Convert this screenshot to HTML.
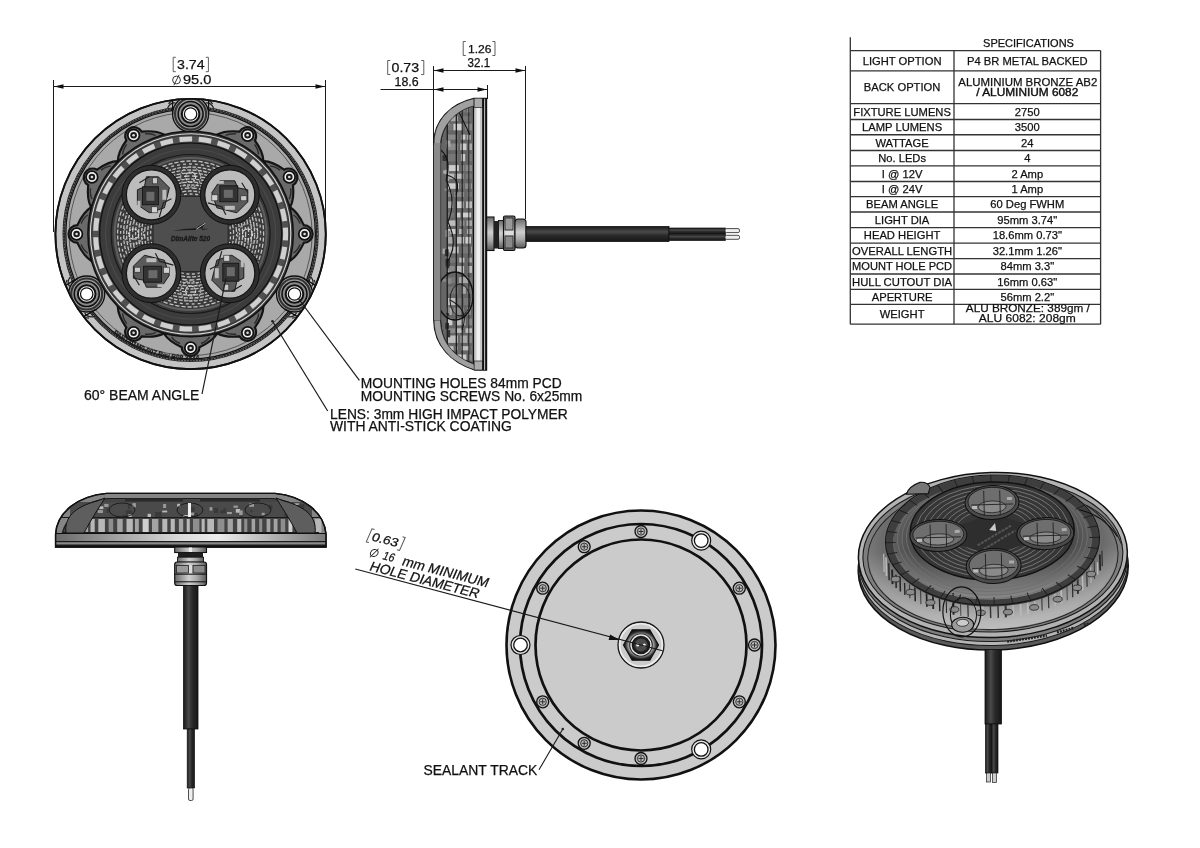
<!DOCTYPE html>
<html><head><meta charset="utf-8"><style>
html,body{margin:0;padding:0;background:#fff;width:1200px;height:848px;overflow:hidden}
svg{display:block;filter:grayscale(1)}
text{font-family:"Liberation Sans", sans-serif;fill:#111;stroke:#111;stroke-width:0.25px}
</style></head><body>
<svg width="1200" height="848" viewBox="0 0 1200 848">
<defs>
<linearGradient id="cableG" x1="0" y1="0" x2="0" y2="1">
<stop offset="0" stop-color="#1a1a1a"/><stop offset="0.35" stop-color="#4a4a4a"/><stop offset="0.6" stop-color="#2a2a2a"/><stop offset="1" stop-color="#161616"/></linearGradient>
<linearGradient id="cableV" x1="0" y1="0" x2="1" y2="0">
<stop offset="0" stop-color="#1a1a1a"/><stop offset="0.35" stop-color="#4a4a4a"/><stop offset="0.6" stop-color="#2a2a2a"/><stop offset="1" stop-color="#161616"/></linearGradient>
<linearGradient id="nutV" x1="0" y1="0" x2="1" y2="0">
<stop offset="0" stop-color="#333"/><stop offset="0.4" stop-color="#aaa"/><stop offset="0.7" stop-color="#666"/><stop offset="1" stop-color="#2a2a2a"/></linearGradient>
<linearGradient id="nutH" x1="0" y1="0" x2="0" y2="1">
<stop offset="0" stop-color="#555"/><stop offset="0.4" stop-color="#ccc"/><stop offset="0.7" stop-color="#888"/><stop offset="1" stop-color="#444"/></linearGradient>
</defs>

<g stroke="#1a1a1a" stroke-width="1" fill="none">
<line x1="53.5" y1="80" x2="53.5" y2="232"/><line x1="325.5" y1="80" x2="325.5" y2="230"/>
<line x1="53.5" y1="86.5" x2="325.5" y2="86.5"/>
</g>
<path d="M54.0,86.5 L63.5,84.3 L63.5,88.7 Z" fill="#111"/>
<path d="M325.0,86.5 L315.5,88.7 L315.5,84.3 Z" fill="#111"/>
<path d="M175.8,57.3 H173.2 V71.7 H175.8 M205.8,57.3 H208.4 V71.7 H205.8" fill="none" stroke="#555" stroke-width="0.95"/>
<text x="177.0" y="68.7" font-size="13.41" textLength="27.6" lengthAdjust="spacingAndGlyphs">3.74</text>
<circle cx="176.5" cy="80.0" r="3.9" fill="none" stroke="#222" stroke-width="0.9"/><line x1="173.9" y1="85.2" x2="179.1" y2="74.8" stroke="#222" stroke-width="0.9"/>
<text x="183.0" y="84.1" font-size="12.71" textLength="28.4" lengthAdjust="spacingAndGlyphs">95.0</text>
<g stroke="#1a1a1a" stroke-width="1" fill="none">
<line x1="433.5" y1="66" x2="433.5" y2="145"/>
<line x1="525.5" y1="66" x2="525.5" y2="219"/>
<line x1="487.5" y1="85" x2="487.5" y2="99"/>
<line x1="433.5" y1="70.5" x2="525.5" y2="70.5"/>
<line x1="380.5" y1="89.5" x2="487.5" y2="89.5"/>
</g>
<path d="M434.0,70.5 L443.5,68.3 L443.5,72.7 Z" fill="#111"/>
<path d="M525.0,70.5 L515.5,72.7 L515.5,68.3 Z" fill="#111"/>
<path d="M434.0,89.5 L443.5,87.3 L443.5,91.7 Z" fill="#111"/>
<path d="M487.0,89.5 L477.5,91.7 L477.5,87.3 Z" fill="#111"/>
<path d="M465.8,41.5 H463.2 V55.5 H465.8 M492.4,41.5 H495.0 V55.5 H492.4" fill="none" stroke="#555" stroke-width="0.95"/>
<text x="468.0" y="52.5" font-size="11.45" textLength="23.5" lengthAdjust="spacingAndGlyphs">1.26</text>
<text x="467.5" y="67.0" font-size="11.87" textLength="22.6" lengthAdjust="spacingAndGlyphs">32.1</text>
<path d="M390.3,60.5 H387.7 V74.5 H390.3 M421.2,60.5 H423.8 V74.5 H421.2" fill="none" stroke="#555" stroke-width="0.95"/>
<text x="391.5" y="71.5" font-size="11.87" textLength="27.6" lengthAdjust="spacingAndGlyphs">0.73</text>
<text x="394.5" y="86.0" font-size="11.87" textLength="24.1" lengthAdjust="spacingAndGlyphs">18.6</text>
<text x="84" y="399.5" font-size="14">60° BEAM ANGLE</text>
<text x="360.8" y="387.8" font-size="13.8">MOUNTING HOLES 84mm PCD</text>
<text x="360.8" y="401" font-size="13.8">MOUNTING SCREWS No. 6x25mm</text>
<text x="330" y="419" font-size="13.8">LENS: 3mm HIGH IMPACT POLYMER</text>
<text x="330" y="431.2" font-size="13.9">WITH ANTI-STICK COATING</text>
<text x="423.5" y="774.6" font-size="13.9">SEALANT TRACK</text>
<g stroke="#333" stroke-width="1.3" fill="none">
<line x1="850.3" y1="37.3" x2="850.3" y2="324.2"/>
<line x1="954" y1="50.6" x2="954" y2="324.2"/>
<line x1="1100.6" y1="50.6" x2="1100.6" y2="324.2"/>
<line x1="850.3" y1="50.6" x2="1100.6" y2="50.6"/>
<line x1="850.3" y1="70.9" x2="1100.6" y2="70.9"/>
<line x1="850.3" y1="103.7" x2="1100.6" y2="103.7"/>
<line x1="850.3" y1="119.5" x2="1100.6" y2="119.5"/>
<line x1="850.3" y1="134.75" x2="1100.6" y2="134.75"/>
<line x1="850.3" y1="150.5" x2="1100.6" y2="150.5"/>
<line x1="850.3" y1="165.8" x2="1100.6" y2="165.8"/>
<line x1="850.3" y1="181.5" x2="1100.6" y2="181.5"/>
<line x1="850.3" y1="196.6" x2="1100.6" y2="196.6"/>
<line x1="850.3" y1="212" x2="1100.6" y2="212"/>
<line x1="850.3" y1="227.7" x2="1100.6" y2="227.7"/>
<line x1="850.3" y1="243.2" x2="1100.6" y2="243.2"/>
<line x1="850.3" y1="258.7" x2="1100.6" y2="258.7"/>
<line x1="850.3" y1="274" x2="1100.6" y2="274"/>
<line x1="850.3" y1="289.3" x2="1100.6" y2="289.3"/>
<line x1="850.3" y1="304.4" x2="1100.6" y2="304.4"/>
<line x1="850.3" y1="324.2" x2="1100.6" y2="324.2"/>
</g>
<text x="1028.5" y="46.9" font-size="11" text-anchor="middle">SPECIFICATIONS</text>
<text x="902.1" y="64.8" font-size="11.2" text-anchor="middle">LIGHT OPTION</text>
<text x="1027.3" y="64.8" font-size="11.2" text-anchor="middle">P4 BR METAL BACKED</text>
<text x="902.1" y="91.3" font-size="11.2" text-anchor="middle">BACK OPTION</text>
<text x="1027.8" y="86.2" font-size="11.2" text-anchor="middle" textLength="139" lengthAdjust="spacingAndGlyphs">ALUMINIUM BRONZE AB2</text>
<text x="1027.3" y="96.3" font-size="11.2" text-anchor="middle" style="stroke-width:0.4px" textLength="102" lengthAdjust="spacingAndGlyphs">/ ALUMINIUM 6082</text>
<text x="902.1" y="115.6" font-size="11.2" text-anchor="middle">FIXTURE LUMENS</text>
<text x="1027.3" y="115.6" font-size="11.2" text-anchor="middle">2750</text>
<text x="902.1" y="131.1" font-size="11.2" text-anchor="middle">LAMP LUMENS</text>
<text x="1027.3" y="131.1" font-size="11.2" text-anchor="middle">3500</text>
<text x="902.1" y="146.6" font-size="11.2" text-anchor="middle">WATTAGE</text>
<text x="1027.3" y="146.6" font-size="11.2" text-anchor="middle">24</text>
<text x="902.1" y="162.2" font-size="11.2" text-anchor="middle">No. LEDs</text>
<text x="1027.3" y="162.2" font-size="11.2" text-anchor="middle">4</text>
<text x="902.1" y="177.7" font-size="11.2" text-anchor="middle">I @ 12V</text>
<text x="1027.3" y="177.7" font-size="11.2" text-anchor="middle">2 Amp</text>
<text x="902.1" y="193.1" font-size="11.2" text-anchor="middle">I @ 24V</text>
<text x="1027.3" y="193.1" font-size="11.2" text-anchor="middle">1 Amp</text>
<text x="902.1" y="208.3" font-size="11.2" text-anchor="middle">BEAM ANGLE</text>
<text x="1027.3" y="208.3" font-size="11.2" text-anchor="middle">60 Deg FWHM</text>
<text x="902.1" y="223.8" font-size="11.2" text-anchor="middle">LIGHT DIA</text>
<text x="1027.3" y="223.8" font-size="11.2" text-anchor="middle">95mm 3.74"</text>
<text x="902.1" y="239.4" font-size="11.2" text-anchor="middle">HEAD HEIGHT</text>
<text x="1027.3" y="239.4" font-size="11.2" text-anchor="middle">18.6mm 0.73"</text>
<text x="902.1" y="254.9" font-size="11.2" text-anchor="middle" textLength="100" lengthAdjust="spacingAndGlyphs">OVERALL LENGTH</text>
<text x="1027.3" y="254.9" font-size="11.2" text-anchor="middle">32.1mm 1.26"</text>
<text x="902.1" y="270.4" font-size="11.2" text-anchor="middle" textLength="100" lengthAdjust="spacingAndGlyphs">MOUNT HOLE PCD</text>
<text x="1027.3" y="270.4" font-size="11.2" text-anchor="middle">84mm 3.3"</text>
<text x="902.1" y="285.6" font-size="11.2" text-anchor="middle" textLength="100" lengthAdjust="spacingAndGlyphs">HULL CUTOUT DIA</text>
<text x="1027.3" y="285.6" font-size="11.2" text-anchor="middle">16mm 0.63"</text>
<text x="902.1" y="300.9" font-size="11.2" text-anchor="middle">APERTURE</text>
<text x="1027.3" y="300.9" font-size="11.2" text-anchor="middle">56mm 2.2"</text>
<text x="902.1" y="318.3" font-size="11.2" text-anchor="middle">WEIGHT</text>
<text x="1027.8" y="312.3" font-size="11.2" text-anchor="middle" textLength="124" lengthAdjust="spacingAndGlyphs">ALU BRONZE: 389gm /</text>
<text x="1027.3" y="322" font-size="11.2" text-anchor="middle" textLength="97" lengthAdjust="spacingAndGlyphs">ALU 6082: 208gm</text>
<g id="front">
<circle cx="190.6" cy="234.0" r="135.2" fill="#c4c4c4" stroke="#111" stroke-width="1.8"/>
<circle cx="190.6" cy="234.0" r="126.8" fill="none" stroke="#222" stroke-width="2.6"/>
<circle cx="190.6" cy="234.0" r="126.8" fill="none" stroke="#999" stroke-width="0.8" stroke-dasharray="1.5 1.5"/>
<circle cx="190.6" cy="234.0" r="124.8" fill="#a9a9a9" stroke="#111" stroke-width="1.3"/>
<circle cx="190.6" cy="234.0" r="121.5" fill="none" stroke="#333" stroke-width="0.7"/>
<path d="M290.1,260.7 Q297.9,255.8 303.8,242.9 A7,7 0 0 0 303.8,225.1 Q297.9,212.2 290.1,207.3 Z" fill="#6a6a6a" stroke="#151515" stroke-width="2.2"/>
<path d="M293.4,253.0 Q297.3,250.9 300.1,244.5 M293.4,215.0 Q297.3,217.1 300.1,223.5" fill="none" stroke="#2a2a2a" stroke-width="1.4"/>
<path d="M290.1,207.3 Q294.4,199.3 293.0,185.1 A7,7 0 0 0 284.1,169.7 Q272.6,161.4 263.4,161.2 Z" fill="#6a6a6a" stroke="#151515" stroke-width="2.2"/>
<path d="M289.1,199.1 Q291.4,195.3 290.7,188.4 M270.1,166.1 Q274.5,166.0 280.2,170.1" fill="none" stroke="#2a2a2a" stroke-width="1.4"/>
<path d="M263.4,161.2 Q263.2,152.0 254.9,140.5 A7,7 0 0 0 239.5,131.6 Q225.3,130.2 217.3,134.5 Z" fill="#6a6a6a" stroke="#151515" stroke-width="2.2"/>
<path d="M258.5,154.5 Q258.6,150.1 254.5,144.4 M225.5,135.5 Q229.3,133.2 236.2,133.9" fill="none" stroke="#2a2a2a" stroke-width="1.4"/>
<path d="M163.9,134.5 Q155.9,130.2 141.7,131.6 A7,7 0 0 0 126.3,140.5 Q118.0,152.0 117.8,161.2 Z" fill="#6a6a6a" stroke="#151515" stroke-width="2.2"/>
<path d="M155.7,135.5 Q151.9,133.2 145.0,133.9 M122.7,154.5 Q122.6,150.1 126.7,144.4" fill="none" stroke="#2a2a2a" stroke-width="1.4"/>
<path d="M117.8,161.2 Q108.6,161.4 97.1,169.7 A7,7 0 0 0 88.2,185.1 Q86.8,199.3 91.1,207.3 Z" fill="#6a6a6a" stroke="#151515" stroke-width="2.2"/>
<path d="M111.1,166.1 Q106.7,166.0 101.0,170.1 M92.1,199.1 Q89.8,195.3 90.5,188.4" fill="none" stroke="#2a2a2a" stroke-width="1.4"/>
<path d="M91.1,207.3 Q83.3,212.2 77.4,225.1 A7,7 0 0 0 77.4,242.9 Q83.3,255.8 91.1,260.7 Z" fill="#6a6a6a" stroke="#151515" stroke-width="2.2"/>
<path d="M87.8,215.0 Q83.9,217.1 81.1,223.5 M87.8,253.0 Q83.9,250.9 81.1,244.5" fill="none" stroke="#2a2a2a" stroke-width="1.4"/>
<path d="M117.8,306.8 Q118.0,316.0 126.3,327.5 A7,7 0 0 0 141.7,336.4 Q155.9,337.8 163.9,333.5 Z" fill="#6a6a6a" stroke="#151515" stroke-width="2.2"/>
<path d="M122.7,313.5 Q122.6,317.9 126.7,323.6 M155.7,332.5 Q151.9,334.8 145.0,334.1" fill="none" stroke="#2a2a2a" stroke-width="1.4"/>
<path d="M163.9,333.5 Q168.8,341.3 181.7,347.2 A7,7 0 0 0 199.5,347.2 Q212.4,341.3 217.3,333.5 Z" fill="#6a6a6a" stroke="#151515" stroke-width="2.2"/>
<path d="M171.6,336.8 Q173.7,340.7 180.1,343.5 M209.6,336.8 Q207.5,340.7 201.1,343.5" fill="none" stroke="#2a2a2a" stroke-width="1.4"/>
<path d="M217.3,333.5 Q225.3,337.8 239.5,336.4 A7,7 0 0 0 254.9,327.5 Q263.2,316.0 263.4,306.8 Z" fill="#6a6a6a" stroke="#151515" stroke-width="2.2"/>
<path d="M225.5,332.5 Q229.3,334.8 236.2,334.1 M258.5,313.5 Q258.6,317.9 254.5,323.6" fill="none" stroke="#2a2a2a" stroke-width="1.4"/>
<clipPath id="frontclip"><circle cx="190.6" cy="234.0" r="134.5"/></clipPath>
<g clip-path="url(#frontclip)">
<circle cx="190.6" cy="114.0" r="18" fill="#a0a0a0" stroke="#111" stroke-width="1.3"/>
<circle cx="190.6" cy="114.0" r="15.5" fill="none" stroke="#333" stroke-width="2.2"/>
<circle cx="190.6" cy="114.0" r="12.5" fill="#8a8a8a" stroke="#111" stroke-width="1.6"/>
<g transform="rotate(0.0 190.6 114.0)"><path d="M168.6,104.0 Q171.6,99.0 176.6,100.0 M167.6,108.0 Q170.6,102.0 175.6,103.0 M212.6,104.0 Q209.6,99.0 204.6,100.0 M213.6,108.0 Q210.6,102.0 205.6,103.0" fill="none" stroke="#222" stroke-width="1.2"/><path d="M172.6,96.0 L172.6,114.0 M208.6,96.0 L208.6,114.0" stroke="#111" stroke-width="1.3"/></g>
<circle cx="86.7" cy="294.0" r="18" fill="#a0a0a0" stroke="#111" stroke-width="1.3"/>
<circle cx="86.7" cy="294.0" r="15.5" fill="none" stroke="#333" stroke-width="2.2"/>
<circle cx="86.7" cy="294.0" r="12.5" fill="#8a8a8a" stroke="#111" stroke-width="1.6"/>
<g transform="rotate(-120.0 86.7 294.0)"><path d="M64.7,284.0 Q67.7,279.0 72.7,280.0 M63.7,288.0 Q66.7,282.0 71.7,283.0 M108.7,284.0 Q105.7,279.0 100.7,280.0 M109.7,288.0 Q106.7,282.0 101.7,283.0" fill="none" stroke="#222" stroke-width="1.2"/><path d="M68.7,276.0 L68.7,294.0 M104.7,276.0 L104.7,294.0" stroke="#111" stroke-width="1.3"/></g>
<circle cx="294.5" cy="294.0" r="18" fill="#a0a0a0" stroke="#111" stroke-width="1.3"/>
<circle cx="294.5" cy="294.0" r="15.5" fill="none" stroke="#333" stroke-width="2.2"/>
<circle cx="294.5" cy="294.0" r="12.5" fill="#8a8a8a" stroke="#111" stroke-width="1.6"/>
<g transform="rotate(-240.0 294.5 294.0)"><path d="M272.5,284.0 Q275.5,279.0 280.5,280.0 M271.5,288.0 Q274.5,282.0 279.5,283.0 M316.5,284.0 Q313.5,279.0 308.5,280.0 M317.5,288.0 Q314.5,282.0 309.5,283.0" fill="none" stroke="#222" stroke-width="1.2"/><path d="M276.5,276.0 L276.5,294.0 M312.5,276.0 L312.5,294.0" stroke="#111" stroke-width="1.3"/></g>
</g>
<circle cx="190.6" cy="234.0" r="135.2" fill="none" stroke="#111" stroke-width="1.8"/>
<circle cx="190.6" cy="234.0" r="102.7" fill="#3a3a3a" stroke="#111" stroke-width="1.5"/>
<circle cx="190.6" cy="234.0" r="100.2" fill="none" stroke="#d8d8d8" stroke-width="1.1"/>
<circle cx="190.6" cy="234.0" r="95" fill="none" stroke="#505050" stroke-width="6"/>
<path d="M285.4,240.3 A95,95 0 0 0 285.4,227.7 M284.7,221.1 A95,95 0 0 0 282.2,208.8 M280.2,202.4 A95,95 0 0 0 275.2,190.8 M272.0,185.0 A95,95 0 0 0 264.8,174.7 M260.5,169.6 A95,95 0 0 0 251.3,161.0 M246.1,156.9 A95,95 0 0 0 235.4,150.2 M229.4,147.3 A95,95 0 0 0 217.6,142.9 M211.2,141.3 A95,95 0 0 0 198.7,139.3 M192.1,139.0 A95,95 0 0 0 179.5,139.6 M172.9,140.7 A95,95 0 0 0 160.7,143.8 M154.5,146.1 A95,95 0 0 0 143.2,151.7 M137.6,155.2 A95,95 0 0 0 127.6,162.9 M122.8,167.5 A95,95 0 0 0 114.6,177.0 M110.8,182.5 A95,95 0 0 0 104.7,193.5 M102.0,199.6 A95,95 0 0 0 98.3,211.6 M96.9,218.1 A95,95 0 0 0 95.7,230.7 M95.7,237.3 A95,95 0 0 0 96.9,249.9 M98.3,256.4 A95,95 0 0 0 102.0,268.4 M104.7,274.5 A95,95 0 0 0 110.8,285.5 M114.6,291.0 A95,95 0 0 0 122.8,300.5 M127.6,305.1 A95,95 0 0 0 137.6,312.8 M143.2,316.3 A95,95 0 0 0 154.5,321.9 M160.7,324.2 A95,95 0 0 0 172.9,327.3 M179.5,328.4 A95,95 0 0 0 192.1,329.0 M198.7,328.7 A95,95 0 0 0 211.2,326.7 M217.6,325.1 A95,95 0 0 0 229.4,320.7 M235.4,317.8 A95,95 0 0 0 246.1,311.1 M251.3,307.0 A95,95 0 0 0 260.5,298.4 M264.8,293.3 A95,95 0 0 0 272.0,283.0 M275.2,277.2 A95,95 0 0 0 280.2,265.6 M282.2,259.2 A95,95 0 0 0 284.7,246.9" fill="none" stroke="#cfcfcf" stroke-width="5"/>
<circle cx="190.6" cy="234.0" r="91" fill="#3c3c3c" stroke="#111" stroke-width="1.2"/>
<circle cx="190.6" cy="234.0" r="85" fill="none" stroke="#4a4a4a" stroke-width="1.2"/>
<circle cx="190.6" cy="234.0" r="79.5" fill="#3a3a3a" stroke="#1a1a1a" stroke-width="1.2"/>
<circle cx="190.6" cy="234.0" r="76" fill="none" stroke="#5e5e5e" stroke-width="2.2"/>
<circle cx="190.6" cy="234.0" r="40" fill="none" stroke="#c0c0c0" stroke-width="1.3" stroke-dasharray="3.0 2.6" stroke-dashoffset="3.2"/><circle cx="190.6" cy="234.0" r="43" fill="none" stroke="#c0c0c0" stroke-width="1.3" stroke-dasharray="3.9 1.6" stroke-dashoffset="4.0"/><circle cx="190.6" cy="234.0" r="46" fill="none" stroke="#c0c0c0" stroke-width="1.3" stroke-dasharray="4.9 2.2" stroke-dashoffset="2.5"/><circle cx="190.6" cy="234.0" r="49" fill="none" stroke="#c0c0c0" stroke-width="1.3" stroke-dasharray="3.2 1.2" stroke-dashoffset="1.9"/><circle cx="190.6" cy="234.0" r="52" fill="none" stroke="#c0c0c0" stroke-width="1.3" stroke-dasharray="4.3 1.3" stroke-dashoffset="4.0"/><circle cx="190.6" cy="234.0" r="55" fill="none" stroke="#c0c0c0" stroke-width="1.3" stroke-dasharray="3.2 1.7" stroke-dashoffset="0.2"/><circle cx="190.6" cy="234.0" r="58" fill="none" stroke="#c0c0c0" stroke-width="1.3" stroke-dasharray="5.5 2.7" stroke-dashoffset="4.4"/><circle cx="190.6" cy="234.0" r="61" fill="none" stroke="#c0c0c0" stroke-width="1.3" stroke-dasharray="4.3 1.3" stroke-dashoffset="1.6"/><circle cx="190.6" cy="234.0" r="64" fill="none" stroke="#c0c0c0" stroke-width="1.3" stroke-dasharray="4.0 1.4" stroke-dashoffset="4.8"/><circle cx="190.6" cy="234.0" r="67" fill="none" stroke="#c0c0c0" stroke-width="1.3" stroke-dasharray="3.6 1.5" stroke-dashoffset="4.1"/><circle cx="190.6" cy="234.0" r="70" fill="none" stroke="#c0c0c0" stroke-width="1.3" stroke-dasharray="2.9 3.1" stroke-dashoffset="2.3"/><circle cx="190.6" cy="234.0" r="73" fill="none" stroke="#c0c0c0" stroke-width="1.3" stroke-dasharray="4.2 1.9" stroke-dashoffset="2.4"/>
<circle cx="247.6" cy="234.0" r="5" fill="none" stroke="#ddd" stroke-width="1.2" stroke-dasharray="2 1"/>
<circle cx="247.6" cy="234.0" r="10" fill="none" stroke="#aaa" stroke-width="1.2" stroke-dasharray="2 1.5"/>
<circle cx="190.6" cy="177.0" r="5" fill="none" stroke="#ddd" stroke-width="1.2" stroke-dasharray="2 1"/>
<circle cx="190.6" cy="177.0" r="10" fill="none" stroke="#aaa" stroke-width="1.2" stroke-dasharray="2 1.5"/>
<circle cx="133.6" cy="234.0" r="5" fill="none" stroke="#ddd" stroke-width="1.2" stroke-dasharray="2 1"/>
<circle cx="133.6" cy="234.0" r="10" fill="none" stroke="#aaa" stroke-width="1.2" stroke-dasharray="2 1.5"/>
<circle cx="190.6" cy="291.0" r="5" fill="none" stroke="#ddd" stroke-width="1.2" stroke-dasharray="2 1"/>
<circle cx="190.6" cy="291.0" r="10" fill="none" stroke="#aaa" stroke-width="1.2" stroke-dasharray="2 1.5"/>
<rect x="153.1" y="196.5" width="75" height="75" rx="4" fill="#4e4e4e" stroke="#2a2a2a" stroke-width="1"/>
<circle cx="229.8" cy="194.8" r="29.5" fill="#2e2e2e" stroke="#111" stroke-width="1"/>
<circle cx="229.8" cy="194.8" r="25" fill="#bcbcbc" stroke="#151515" stroke-width="1.2"/>
<g transform="translate(229.8,194.8) rotate(0)"><path d="M-18,-2 L-10,-14 L5,-14 L8,-7 L18,-5 L18,7 L7,18 L-13,13 Z" fill="#5a5a5a" stroke="#111" stroke-width="0.9"/><rect x="-10" y="-9" width="18" height="16" fill="#333" stroke="#111" stroke-width="0.8"/><rect x="-6" y="-5" width="9" height="8" fill="#6a6a6a"/><rect x="-18" y="0" width="6" height="6" fill="#d0d0d0" stroke="#222" stroke-width="0.6"/><rect x="11" y="1" width="6" height="5" fill="#c8c8c8" stroke="#222" stroke-width="0.6"/><rect x="-5" y="11" width="10" height="4" fill="#bbb"/><rect x="-14" y="-14" width="8" height="3" fill="#bbb"/><path d="M-22,8 L-8,12 L-4,20 M12,-12 L18,-2" stroke="#222" stroke-width="1.2" fill="none"/></g>
<circle cx="151.4" cy="194.8" r="29.5" fill="#2e2e2e" stroke="#111" stroke-width="1"/>
<circle cx="151.4" cy="194.8" r="25" fill="#bcbcbc" stroke="#151515" stroke-width="1.2"/>
<g transform="translate(151.4,194.8) rotate(-90)"><path d="M-18,-2 L-10,-14 L5,-14 L8,-7 L18,-5 L18,7 L7,18 L-13,13 Z" fill="#5a5a5a" stroke="#111" stroke-width="0.9"/><rect x="-10" y="-9" width="18" height="16" fill="#333" stroke="#111" stroke-width="0.8"/><rect x="-6" y="-5" width="9" height="8" fill="#6a6a6a"/><rect x="-18" y="0" width="6" height="6" fill="#d0d0d0" stroke="#222" stroke-width="0.6"/><rect x="11" y="1" width="6" height="5" fill="#c8c8c8" stroke="#222" stroke-width="0.6"/><rect x="-5" y="11" width="10" height="4" fill="#bbb"/><rect x="-14" y="-14" width="8" height="3" fill="#bbb"/><path d="M-22,8 L-8,12 L-4,20 M12,-12 L18,-2" stroke="#222" stroke-width="1.2" fill="none"/></g>
<circle cx="151.4" cy="273.2" r="29.5" fill="#2e2e2e" stroke="#111" stroke-width="1"/>
<circle cx="151.4" cy="273.2" r="25" fill="#bcbcbc" stroke="#151515" stroke-width="1.2"/>
<g transform="translate(151.4,273.2) rotate(-180)"><path d="M-18,-2 L-10,-14 L5,-14 L8,-7 L18,-5 L18,7 L7,18 L-13,13 Z" fill="#5a5a5a" stroke="#111" stroke-width="0.9"/><rect x="-10" y="-9" width="18" height="16" fill="#333" stroke="#111" stroke-width="0.8"/><rect x="-6" y="-5" width="9" height="8" fill="#6a6a6a"/><rect x="-18" y="0" width="6" height="6" fill="#d0d0d0" stroke="#222" stroke-width="0.6"/><rect x="11" y="1" width="6" height="5" fill="#c8c8c8" stroke="#222" stroke-width="0.6"/><rect x="-5" y="11" width="10" height="4" fill="#bbb"/><rect x="-14" y="-14" width="8" height="3" fill="#bbb"/><path d="M-22,8 L-8,12 L-4,20 M12,-12 L18,-2" stroke="#222" stroke-width="1.2" fill="none"/></g>
<circle cx="229.8" cy="273.2" r="29.5" fill="#2e2e2e" stroke="#111" stroke-width="1"/>
<circle cx="229.8" cy="273.2" r="25" fill="#bcbcbc" stroke="#151515" stroke-width="1.2"/>
<g transform="translate(229.8,273.2) rotate(-270)"><path d="M-18,-2 L-10,-14 L5,-14 L8,-7 L18,-5 L18,7 L7,18 L-13,13 Z" fill="#5a5a5a" stroke="#111" stroke-width="0.9"/><rect x="-10" y="-9" width="18" height="16" fill="#333" stroke="#111" stroke-width="0.8"/><rect x="-6" y="-5" width="9" height="8" fill="#6a6a6a"/><rect x="-18" y="0" width="6" height="6" fill="#d0d0d0" stroke="#222" stroke-width="0.6"/><rect x="11" y="1" width="6" height="5" fill="#c8c8c8" stroke="#222" stroke-width="0.6"/><rect x="-5" y="11" width="10" height="4" fill="#bbb"/><rect x="-14" y="-14" width="8" height="3" fill="#bbb"/><path d="M-22,8 L-8,12 L-4,20 M12,-12 L18,-2" stroke="#222" stroke-width="1.2" fill="none"/></g>
<path d="M172.6,231.0 Q188.6,227.0 208.6,229.0 L201.6,230.0 Q203.6,225.0 206.6,222.0 Q196.6,226.0 195.6,230.0 Q182.6,230.0 172.6,231.0 Z" fill="#1a1a1a"/>
<path d="M196.6,229.0 Q202.6,225.0 205.6,223.0" stroke="#ddd" stroke-width="0.8" fill="none"/>
<text x="190.6" y="241.0" font-size="6.5" font-weight="bold" font-style="italic" text-anchor="middle" style="fill:#1a1a1a;stroke:#1a1a1a;stroke-width:0.3px">DimAlite 520</text>
<circle cx="304.6" cy="234.0" r="5.8" fill="#f2f2f2" stroke="#111" stroke-width="1.8"/>
<circle cx="304.6" cy="234.0" r="3.3" fill="#1a1a1a"/>
<circle cx="304.6" cy="234.0" r="1.3" fill="#e0e0e0"/>
<circle cx="289.3" cy="177.0" r="5.8" fill="#f2f2f2" stroke="#111" stroke-width="1.8"/>
<circle cx="289.3" cy="177.0" r="3.3" fill="#1a1a1a"/>
<circle cx="289.3" cy="177.0" r="1.3" fill="#e0e0e0"/>
<circle cx="247.6" cy="135.3" r="5.8" fill="#f2f2f2" stroke="#111" stroke-width="1.8"/>
<circle cx="247.6" cy="135.3" r="3.3" fill="#1a1a1a"/>
<circle cx="247.6" cy="135.3" r="1.3" fill="#e0e0e0"/>
<circle cx="133.6" cy="135.3" r="5.8" fill="#f2f2f2" stroke="#111" stroke-width="1.8"/>
<circle cx="133.6" cy="135.3" r="3.3" fill="#1a1a1a"/>
<circle cx="133.6" cy="135.3" r="1.3" fill="#e0e0e0"/>
<circle cx="91.9" cy="177.0" r="5.8" fill="#f2f2f2" stroke="#111" stroke-width="1.8"/>
<circle cx="91.9" cy="177.0" r="3.3" fill="#1a1a1a"/>
<circle cx="91.9" cy="177.0" r="1.3" fill="#e0e0e0"/>
<circle cx="76.6" cy="234.0" r="5.8" fill="#f2f2f2" stroke="#111" stroke-width="1.8"/>
<circle cx="76.6" cy="234.0" r="3.3" fill="#1a1a1a"/>
<circle cx="76.6" cy="234.0" r="1.3" fill="#e0e0e0"/>
<circle cx="133.6" cy="332.7" r="5.8" fill="#f2f2f2" stroke="#111" stroke-width="1.8"/>
<circle cx="133.6" cy="332.7" r="3.3" fill="#1a1a1a"/>
<circle cx="133.6" cy="332.7" r="1.3" fill="#e0e0e0"/>
<circle cx="190.6" cy="348.0" r="5.8" fill="#f2f2f2" stroke="#111" stroke-width="1.8"/>
<circle cx="190.6" cy="348.0" r="3.3" fill="#1a1a1a"/>
<circle cx="190.6" cy="348.0" r="1.3" fill="#e0e0e0"/>
<circle cx="247.6" cy="332.7" r="5.8" fill="#f2f2f2" stroke="#111" stroke-width="1.8"/>
<circle cx="247.6" cy="332.7" r="3.3" fill="#1a1a1a"/>
<circle cx="247.6" cy="332.7" r="1.3" fill="#e0e0e0"/>
<circle cx="190.6" cy="114.0" r="8.8" fill="#f0f0f0" stroke="#111" stroke-width="2"/>
<circle cx="190.6" cy="114.0" r="6.2" fill="#fff" stroke="#111" stroke-width="1.3"/>
<circle cx="86.7" cy="294.0" r="8.8" fill="#f0f0f0" stroke="#111" stroke-width="2"/>
<circle cx="86.7" cy="294.0" r="6.2" fill="#fff" stroke="#111" stroke-width="1.3"/>
<circle cx="294.5" cy="294.0" r="8.8" fill="#f0f0f0" stroke="#111" stroke-width="2"/>
<circle cx="294.5" cy="294.0" r="6.2" fill="#fff" stroke="#111" stroke-width="1.3"/>
<path id="rimpath" d="M113.0,333.3 A126,126 0 0 0 216.8,357.2" fill="none"/>
<text font-size="6.5" font-weight="bold" style="fill:#222"><textPath href="#rimpath">PART-01M0-007  Rev B08  2834</textPath></text>
</g>
<g stroke="#1a1a1a" stroke-width="1.2" fill="none">
<line x1="202" y1="394" x2="226" y2="278"/>
<line x1="359.4" y1="380.4" x2="298" y2="298"/>
<line x1="327.7" y1="411" x2="272.5" y2="321.2"/>
</g>
<circle cx="272.5" cy="321.2" r="1.3" fill="#222"/>
<g id="side">
<clipPath id="sideclip"><path d="M474,98.5 L486.5,98.5 L486.5,370 L475,370 C452,363 434,346 433.8,320 L433.8,143 C434,121 450,104 474,98.5 Z"/></clipPath>
<path d="M474,98.5 L486.5,98.5 L486.5,370 L475,370 C452,363 434,346 433.8,320 L433.8,143 C434,121 450,104 474,98.5 Z" fill="#b5b5b5" stroke="#111" stroke-width="1.4"/>
<g clip-path="url(#sideclip)">
<path d="M474,105 L474,364 C457,358 441,345 440.5,320 L440.5,145 C441,126 455,110 474,105 Z" fill="#666" stroke="#111" stroke-width="1.2"/>
<rect x="448.0" y="108.0" width="7.4" height="4.5" fill="#cccccc"/><rect x="459.1" y="108.0" width="6.8" height="4.5" fill="#777777"/><rect x="467.1" y="108.0" width="3.1" height="4.5" fill="#8a8a8a"/><rect x="472.0" y="108.0" width="0.0" height="4.5" fill="#8a8a8a"/><rect x="448.0" y="116.1" width="9.9" height="5.1" fill="#a8a8a8"/><rect x="460.8" y="116.1" width="9.9" height="5.1" fill="#777777"/><rect x="448.0" y="123.7" width="4.3" height="6.6" fill="#777777"/><rect x="453.4" y="123.7" width="9.2" height="6.6" fill="#cccccc"/><rect x="465.1" y="123.7" width="6.9" height="6.6" fill="#8a8a8a"/><rect x="448.0" y="134.6" width="9.4" height="5.1" fill="#8a8a8a"/><rect x="461.3" y="134.6" width="4.1" height="5.1" fill="#cccccc"/><rect x="466.7" y="134.6" width="4.1" height="5.1" fill="#a8a8a8"/><rect x="448.0" y="143.5" width="9.8" height="6.6" fill="#8a8a8a"/><rect x="460.4" y="143.5" width="6.1" height="6.6" fill="#cccccc"/><rect x="469.1" y="143.5" width="2.9" height="6.6" fill="#a8a8a8"/><rect x="448.0" y="154.0" width="9.9" height="7.2" fill="#777777"/><rect x="460.9" y="154.0" width="4.3" height="7.2" fill="#cccccc"/><rect x="469.1" y="154.0" width="2.9" height="7.2" fill="#777777"/><rect x="448.0" y="165.1" width="10.9" height="6.0" fill="#cccccc"/><rect x="460.8" y="165.1" width="3.5" height="6.0" fill="#8a8a8a"/><rect x="465.5" y="165.1" width="6.5" height="6.0" fill="#8a8a8a"/><rect x="448.0" y="173.6" width="6.3" height="5.2" fill="#bcbcbc"/><rect x="455.5" y="173.6" width="7.9" height="5.2" fill="#bcbcbc"/><rect x="465.5" y="173.6" width="6.5" height="5.2" fill="#777777"/><rect x="448.0" y="183.3" width="11.0" height="5.5" fill="#cccccc"/><rect x="460.0" y="183.3" width="3.9" height="5.5" fill="#777777"/><rect x="465.0" y="183.3" width="4.6" height="5.5" fill="#8a8a8a"/><rect x="471.4" y="183.3" width="0.6" height="5.5" fill="#bcbcbc"/><rect x="448.0" y="192.0" width="4.1" height="4.9" fill="#8a8a8a"/><rect x="454.2" y="192.0" width="10.0" height="4.9" fill="#8a8a8a"/><rect x="467.1" y="192.0" width="4.9" height="4.9" fill="#777777"/><rect x="448.0" y="201.4" width="5.2" height="6.7" fill="#a8a8a8"/><rect x="457.0" y="201.4" width="6.5" height="6.7" fill="#cccccc"/><rect x="466.0" y="201.4" width="6.0" height="6.7" fill="#bcbcbc"/><rect x="448.0" y="212.6" width="6.0" height="4.8" fill="#777777"/><rect x="456.9" y="212.6" width="3.5" height="4.8" fill="#cccccc"/><rect x="462.8" y="212.6" width="8.4" height="4.8" fill="#cccccc"/><rect x="448.0" y="220.4" width="7.7" height="5.5" fill="#bcbcbc"/><rect x="459.6" y="220.4" width="5.0" height="5.5" fill="#8a8a8a"/><rect x="466.5" y="220.4" width="5.5" height="5.5" fill="#a8a8a8"/><rect x="448.0" y="229.0" width="7.8" height="5.0" fill="#cccccc"/><rect x="459.1" y="229.0" width="3.8" height="5.0" fill="#bcbcbc"/><rect x="466.9" y="229.0" width="5.1" height="5.0" fill="#a8a8a8"/><rect x="448.0" y="236.9" width="4.9" height="6.7" fill="#a8a8a8"/><rect x="455.9" y="236.9" width="8.2" height="6.7" fill="#bcbcbc"/><rect x="465.4" y="236.9" width="5.6" height="6.7" fill="#cccccc"/><rect x="448.0" y="246.6" width="10.7" height="6.7" fill="#bcbcbc"/><rect x="460.7" y="246.6" width="8.2" height="6.7" fill="#777777"/><rect x="471.3" y="246.6" width="0.7" height="6.7" fill="#bcbcbc"/><rect x="448.0" y="257.7" width="9.7" height="4.8" fill="#777777"/><rect x="459.2" y="257.7" width="5.2" height="4.8" fill="#bcbcbc"/><rect x="467.9" y="257.7" width="4.1" height="4.8" fill="#a8a8a8"/><rect x="448.0" y="266.0" width="6.7" height="6.9" fill="#8a8a8a"/><rect x="456.6" y="266.0" width="7.5" height="6.9" fill="#bcbcbc"/><rect x="467.9" y="266.0" width="4.1" height="6.9" fill="#bcbcbc"/><rect x="448.0" y="277.1" width="7.1" height="6.0" fill="#777777"/><rect x="458.9" y="277.1" width="10.4" height="6.0" fill="#a8a8a8"/><rect x="470.4" y="277.1" width="1.6" height="6.0" fill="#777777"/><rect x="448.0" y="286.7" width="9.9" height="7.1" fill="#777777"/><rect x="461.8" y="286.7" width="4.0" height="7.1" fill="#a8a8a8"/><rect x="466.9" y="286.7" width="5.1" height="7.1" fill="#777777"/><rect x="448.0" y="298.0" width="7.6" height="7.1" fill="#bcbcbc"/><rect x="458.1" y="298.0" width="4.0" height="7.1" fill="#777777"/><rect x="463.9" y="298.0" width="8.1" height="7.1" fill="#777777"/><rect x="448.0" y="307.7" width="3.9" height="7.2" fill="#a8a8a8"/><rect x="453.7" y="307.7" width="9.9" height="7.2" fill="#8a8a8a"/><rect x="467.0" y="307.7" width="3.5" height="7.2" fill="#a8a8a8"/><rect x="448.0" y="318.5" width="4.4" height="6.8" fill="#cccccc"/><rect x="456.1" y="318.5" width="9.4" height="6.8" fill="#bcbcbc"/><rect x="468.0" y="318.5" width="4.0" height="6.8" fill="#8a8a8a"/><rect x="448.0" y="328.3" width="7.2" height="4.6" fill="#8a8a8a"/><rect x="456.4" y="328.3" width="5.6" height="4.6" fill="#bcbcbc"/><rect x="465.5" y="328.3" width="6.5" height="4.6" fill="#bcbcbc"/><rect x="448.0" y="335.5" width="9.8" height="7.4" fill="#bcbcbc"/><rect x="460.4" y="335.5" width="6.9" height="7.4" fill="#a8a8a8"/><rect x="469.2" y="335.5" width="2.8" height="7.4" fill="#8a8a8a"/><rect x="448.0" y="346.1" width="5.6" height="4.3" fill="#bcbcbc"/><rect x="455.0" y="346.1" width="3.0" height="4.3" fill="#8a8a8a"/><rect x="461.4" y="346.1" width="7.5" height="4.3" fill="#bcbcbc"/><rect x="471.1" y="346.1" width="0.9" height="4.3" fill="#777777"/><rect x="448.0" y="354.5" width="6.5" height="6.0" fill="#cccccc"/><rect x="457.3" y="354.5" width="9.1" height="6.0" fill="#cccccc"/><rect x="468.7" y="354.5" width="3.3" height="6.0" fill="#8a8a8a"/>
<rect x="445.5" y="177.5" width="3.9" height="3.3" fill="#888"/><rect x="447.6" y="329.9" width="2.6" height="7.4" fill="#333"/><rect x="446.1" y="140.4" width="4.3" height="6.4" fill="#aaa"/><rect x="446.0" y="308.1" width="3.7" height="5.4" fill="#888"/><rect x="446.3" y="312.9" width="2.9" height="3.4" fill="#333"/><rect x="442.6" y="121.1" width="1.8" height="7.3" fill="#888"/><rect x="444.0" y="314.9" width="4.1" height="2.2" fill="#888"/><rect x="447.0" y="278.4" width="4.4" height="5.5" fill="#888"/><rect x="446.6" y="119.1" width="3.0" height="6.3" fill="#888"/><rect x="442.6" y="248.6" width="3.2" height="5.3" fill="#aaa"/><rect x="442.5" y="155.1" width="4.5" height="5.9" fill="#333"/><rect x="446.5" y="264.0" width="2.7" height="4.2" fill="#333"/><rect x="445.3" y="344.7" width="4.4" height="4.3" fill="#888"/><rect x="444.5" y="353.3" width="3.7" height="3.0" fill="#aaa"/><rect x="445.5" y="252.1" width="4.3" height="6.1" fill="#888"/><rect x="447.4" y="270.7" width="1.9" height="2.6" fill="#aaa"/><rect x="446.2" y="230.9" width="4.4" height="5.5" fill="#888"/><rect x="446.5" y="144.1" width="1.9" height="5.1" fill="#888"/><rect x="445.2" y="322.9" width="3.8" height="6.0" fill="#333"/><rect x="445.5" y="258.8" width="4.5" height="7.3" fill="#333"/><rect x="444.9" y="115.8" width="2.6" height="3.0" fill="#333"/><rect x="444.9" y="169.7" width="4.1" height="4.5" fill="#aaa"/><rect x="445.6" y="229.9" width="2.9" height="7.0" fill="#aaa"/><rect x="444.9" y="249.3" width="3.7" height="7.1" fill="#333"/><rect x="447.3" y="305.8" width="1.6" height="7.5" fill="#888"/><rect x="446.7" y="272.1" width="1.7" height="3.3" fill="#333"/><rect x="443.1" y="170.5" width="2.3" height="3.1" fill="#aaa"/><rect x="442.2" y="278.8" width="4.3" height="3.0" fill="#888"/><rect x="444.5" y="188.4" width="3.7" height="2.5" fill="#888"/><rect x="447.5" y="176.0" width="1.6" height="4.7" fill="#aaa"/>
<path d="M441,150 Q452,160 446,180 Q457,200 448,222 Q459,245 447,262 M446,175 Q462,178 456,195 M458,110 L470,135 M450,300 Q470,310 462,330" fill="none" stroke="#151515" stroke-width="1.1"/>
<line x1="447.2" y1="100" x2="447.2" y2="368" stroke="#111" stroke-width="1.1"/>
<line x1="456.3" y1="100" x2="456.3" y2="368" stroke="#111" stroke-width="1.2"/>
<line x1="462.2" y1="100" x2="462.2" y2="368" stroke="#111" stroke-width="1.0"/>
<line x1="468.8" y1="100" x2="468.8" y2="368" stroke="#111" stroke-width="0.8"/>
<line x1="473.5" y1="100" x2="473.5" y2="368" stroke="#111" stroke-width="1.2"/>
<ellipse cx="455" cy="296" rx="18" ry="24" fill="none" stroke="#111" stroke-width="1.4"/>
<ellipse cx="460" cy="300" rx="10" ry="16" fill="none" stroke="#222" stroke-width="1"/>
<path d="M434,143 C434,121 450,104 474,98.5 L474,106 C456,110 441,126 440.5,145 Z" fill="#a0a0a0" stroke="#222" stroke-width="0.8"/>
<path d="M434,320 C434,346 452,363 475,370 L474,364 C457,358 441,345 440.5,320 Z" fill="#a0a0a0" stroke="#222" stroke-width="0.8"/>
<rect x="434" y="143" width="6.5" height="177" fill="#8a8a8a"/>
<rect x="474.2" y="98.5" width="8.3" height="271.5" fill="#c8c8c8"/>
<rect x="476.5" y="98.5" width="3.5" height="271.5" fill="#f0f0f0"/>
<rect x="474.2" y="98.5" width="8.3" height="9" fill="#aaa" stroke="#333" stroke-width="0.8"/>
<rect x="474.2" y="361" width="8.3" height="9" fill="#aaa" stroke="#333" stroke-width="0.8"/>
<rect x="482.2" y="98.5" width="2" height="271.5" fill="#111"/>
<rect x="484.2" y="98.5" width="1" height="271.5" fill="#bbb"/>
<rect x="485.2" y="98.5" width="1.5" height="271.5" fill="#111"/>
</g>
<g id="sidecable">
<linearGradient id="nutLH" x1="0" y1="0" x2="0" y2="1"><stop offset="0" stop-color="#6a6a6a"/><stop offset="0.45" stop-color="#cfcfcf"/><stop offset="0.7" stop-color="#a8a8a8"/><stop offset="1" stop-color="#5a5a5a"/></linearGradient>
<rect x="486.7" y="217" width="7.3" height="33.5" fill="url(#nutLH)" stroke="#111" stroke-width="1.1"/>
<rect x="494" y="221" width="4.5" height="27.5" fill="#222"/>
<rect x="498.5" y="220.5" width="5" height="28" fill="url(#nutLH)" stroke="#111" stroke-width="0.9"/>
<rect x="503.5" y="216" width="11.5" height="34.5" rx="1.5" fill="url(#nutLH)" stroke="#111" stroke-width="1.2"/>
<rect x="505" y="218" width="8" height="12" fill="#9a9a9a" stroke="#222" stroke-width="0.8"/><rect x="505" y="236" width="8" height="12" fill="#8a8a8a" stroke="#222" stroke-width="0.8"/>
<rect x="505" y="231" width="8" height="4" fill="#ddd"/>
<rect x="515" y="219" width="11" height="29" rx="3" fill="url(#nutLH)" stroke="#111" stroke-width="1.1"/>
<rect x="526" y="226.5" width="143" height="15" fill="url(#cableG)" stroke="#111" stroke-width="0.8"/>
<rect x="669" y="228" width="56.5" height="6" fill="url(#cableG)" stroke="#111" stroke-width="0.7"/>
<rect x="669" y="234.5" width="56.5" height="6" fill="url(#cableG)" stroke="#111" stroke-width="0.7"/>
<rect x="725" y="228.6" width="14.5" height="4" rx="1.5" fill="#eee" stroke="#222" stroke-width="0.8"/>
<rect x="725" y="235.3" width="14.5" height="4" rx="1.5" fill="#eee" stroke="#222" stroke-width="0.8"/>
</g>
<g id="elev">
<clipPath id="elevclip"><path d="M106.5,493.4 L275,493.4 C303,496 324,512 326,534 L326,547 L55.6,547 L55.6,534 C57,512 78,496 106.5,493.4 Z"/></clipPath>
<path d="M106.5,493.4 L275,493.4 C303,496 324,512 326,534 L326,547 L55.6,547 L55.6,534 C57,512 78,496 106.5,493.4 Z" fill="#858585" stroke="#111" stroke-width="1.4"/>
<g clip-path="url(#elevclip)">
<path d="M108,498.5 L273,498.5 C296,501 314,514 319,534 L62,534 C67,514 85,501 108,498.5 Z" fill="#444" stroke="#1a1a1a" stroke-width="1.1"/>
<rect x="70" y="502" width="242" height="15" fill="#4a4a4a"/>
<rect x="125" y="498.5" width="58" height="3" fill="#2a2a2a"/><rect x="200" y="498.5" width="60" height="3" fill="#2a2a2a"/>
<rect x="66.0" y="519" width="4.8" height="13.5" fill="#8e8e8e"/><rect x="74.2" y="519" width="6.4" height="13.5" fill="#a4a4a4"/><rect x="83.1" y="519" width="5.0" height="13.5" fill="#a4a4a4"/><rect x="90.5" y="519" width="4.2" height="13.5" fill="#b8b8b8"/><rect x="98.3" y="519" width="6.6" height="13.5" fill="#b8b8b8"/><rect x="108.6" y="519" width="4.6" height="13.5" fill="#8e8e8e"/><rect x="117.2" y="519" width="5.5" height="13.5" fill="#a4a4a4"/><rect x="126.5" y="519" width="6.3" height="13.5" fill="#b8b8b8"/><rect x="135.0" y="519" width="3.8" height="13.5" fill="#a4a4a4"/><rect x="142.6" y="519" width="6.1" height="13.5" fill="#d0d0d0"/><rect x="152.0" y="519" width="6.4" height="13.5" fill="#a4a4a4"/><rect x="162.3" y="519" width="5.0" height="13.5" fill="#b8b8b8"/><rect x="170.7" y="519" width="4.1" height="13.5" fill="#b8b8b8"/><rect x="178.9" y="519" width="4.3" height="13.5" fill="#a4a4a4"/><rect x="186.7" y="519" width="3.1" height="13.5" fill="#b8b8b8"/><rect x="193.0" y="519" width="6.4" height="13.5" fill="#8e8e8e"/><rect x="201.6" y="519" width="3.1" height="13.5" fill="#b8b8b8"/><rect x="207.3" y="519" width="6.7" height="13.5" fill="#b8b8b8"/><rect x="217.5" y="519" width="6.9" height="13.5" fill="#8e8e8e"/><rect x="227.6" y="519" width="5.3" height="13.5" fill="#a4a4a4"/><rect x="237.2" y="519" width="4.1" height="13.5" fill="#b8b8b8"/><rect x="244.2" y="519" width="3.1" height="13.5" fill="#8e8e8e"/><rect x="251.6" y="519" width="3.5" height="13.5" fill="#a4a4a4"/><rect x="259.2" y="519" width="3.0" height="13.5" fill="#8e8e8e"/><rect x="266.6" y="519" width="3.7" height="13.5" fill="#a4a4a4"/><rect x="273.7" y="519" width="3.8" height="13.5" fill="#a4a4a4"/><rect x="280.7" y="519" width="4.5" height="13.5" fill="#8e8e8e"/><rect x="288.5" y="519" width="3.9" height="13.5" fill="#d0d0d0"/><rect x="296.9" y="519" width="6.9" height="13.5" fill="#d0d0d0"/><rect x="308.8" y="519" width="3.1" height="13.5" fill="#a4a4a4"/><rect x="315.1" y="519" width="6.4" height="13.5" fill="#b8b8b8"/>
<rect x="106.5" y="508.7" width="2.0" height="3.9" fill="#3a3a3a"/><rect x="163.1" y="504.0" width="3.0" height="4.0" fill="#999"/><rect x="213.9" y="507.8" width="4.3" height="5.3" fill="#3a3a3a"/><rect x="268.4" y="504.8" width="3.9" height="4.0" fill="#3a3a3a"/><rect x="286.4" y="513.6" width="3.2" height="2.3" fill="#bbb"/><rect x="220.4" y="510.2" width="5.4" height="3.1" fill="#3a3a3a"/><rect x="214.4" y="508.5" width="2.5" height="1.7" fill="#3a3a3a"/><rect x="128.3" y="512.2" width="3.3" height="4.8" fill="#bbb"/><rect x="187.9" y="509.8" width="6.6" height="5.4" fill="#999"/><rect x="125.9" y="510.3" width="6.3" height="4.0" fill="#3a3a3a"/><rect x="122.1" y="514.9" width="5.7" height="1.8" fill="#3a3a3a"/><rect x="177.2" y="503.8" width="2.9" height="3.0" fill="#bbb"/><rect x="301.6" y="504.2" width="2.7" height="3.3" fill="#3a3a3a"/><rect x="227.0" y="512.0" width="4.9" height="2.1" fill="#999"/><rect x="290.0" y="509.2" width="3.8" height="2.7" fill="#999"/><rect x="77.0" y="511.3" width="4.4" height="4.4" fill="#3a3a3a"/><rect x="104.2" y="503.9" width="4.3" height="3.0" fill="#999"/><rect x="284.4" y="512.6" width="5.5" height="4.7" fill="#3a3a3a"/><rect x="155.0" y="511.9" width="6.5" height="5.0" fill="#3a3a3a"/><rect x="294.8" y="503.4" width="4.5" height="1.6" fill="#bbb"/><rect x="162.2" y="510.6" width="5.0" height="1.8" fill="#bbb"/><rect x="99.3" y="506.3" width="4.1" height="2.8" fill="#bbb"/><rect x="235.8" y="509.0" width="4.3" height="3.7" fill="#bbb"/><rect x="249.0" y="503.4" width="5.0" height="3.4" fill="#999"/><rect x="297.9" y="504.5" width="5.9" height="4.1" fill="#3a3a3a"/><rect x="132.4" y="503.1" width="3.5" height="4.2" fill="#999"/><rect x="194.3" y="512.8" width="3.7" height="5.2" fill="#3a3a3a"/><rect x="282.4" y="507.3" width="5.3" height="2.3" fill="#3a3a3a"/><rect x="261.7" y="512.8" width="3.0" height="2.4" fill="#999"/><rect x="209.6" y="507.1" width="2.7" height="3.5" fill="#999"/><rect x="239.8" y="515.4" width="3.4" height="2.2" fill="#3a3a3a"/><rect x="183.2" y="515.0" width="6.2" height="3.0" fill="#bbb"/><rect x="188.6" y="507.1" width="6.2" height="5.4" fill="#3a3a3a"/><rect x="147.6" y="513.8" width="3.4" height="3.9" fill="#bbb"/><rect x="239.2" y="510.4" width="3.5" height="4.7" fill="#999"/><rect x="223.3" y="508.3" width="2.9" height="4.6" fill="#3a3a3a"/><rect x="128.0" y="504.8" width="2.2" height="4.0" fill="#3a3a3a"/><rect x="97.7" y="510.0" width="5.2" height="3.0" fill="#999"/><rect x="233.5" y="505.6" width="4.4" height="2.2" fill="#999"/><rect x="250.2" y="510.0" width="2.2" height="2.4" fill="#3a3a3a"/>
<line x1="62" y1="517.5" x2="319" y2="517.5" stroke="#1a1a1a" stroke-width="1.1"/>
<line x1="62" y1="532.5" x2="319" y2="532.5" stroke="#1a1a1a" stroke-width="1.1"/>
<ellipse cx="122" cy="510" rx="13" ry="7" fill="none" stroke="#1a1a1a" stroke-width="0.9"/>
<ellipse cx="190" cy="510" rx="13" ry="7" fill="none" stroke="#1a1a1a" stroke-width="0.9"/>
<ellipse cx="258" cy="510" rx="13" ry="7" fill="none" stroke="#1a1a1a" stroke-width="0.9"/>
<rect x="188" y="503" width="3" height="14" fill="#eee"/>
<path d="M66,533 C64,518 74,507 97,501 L105,498 C96,512 88,525 84,533 Z" fill="#5e5e5e" stroke="#111" stroke-width="1"/>
<path d="M315,533 C317,518 307,507 284,501 L276,498 C285,512 293,525 297,533 Z" fill="#5e5e5e" stroke="#111" stroke-width="1"/>
<linearGradient id="flG" x1="0" y1="0" x2="1" y2="0"><stop offset="0" stop-color="#6a6a6a"/><stop offset="0.45" stop-color="#d8d8d8"/><stop offset="0.6" stop-color="#ececec"/><stop offset="1" stop-color="#7a7a7a"/></linearGradient>
<rect x="55.6" y="533.5" width="270.4" height="8.2" fill="url(#flG)" stroke="#111" stroke-width="1"/>
<rect x="55.6" y="541.7" width="270.4" height="5.3" fill="#8a8a8a" stroke="#111" stroke-width="1"/>
<rect x="55.6" y="544.5" width="270.4" height="2.5" fill="#1a1a1a"/>
</g>
<path d="M106.5,493.4 L275,493.4 C303,496 324,512 326,534 L326,547 L55.6,547 L55.6,534 C57,512 78,496 106.5,493.4 Z" fill="none" stroke="#111" stroke-width="1.4"/>
</g>
<g id="elevcable">
<linearGradient id="nutL" x1="0" y1="0" x2="1" y2="0"><stop offset="0" stop-color="#6a6a6a"/><stop offset="0.45" stop-color="#cfcfcf"/><stop offset="0.7" stop-color="#a8a8a8"/><stop offset="1" stop-color="#5a5a5a"/></linearGradient>
<rect x="174.7" y="547" width="31.8" height="5.5" fill="url(#nutL)" stroke="#111" stroke-width="1.1"/>
<rect x="189" y="547.5" width="3" height="4.5" fill="#eee"/>
<rect x="178" y="552.5" width="25" height="4.8" fill="#1e1e1e"/>
<rect x="177.5" y="557.2" width="26" height="5" fill="url(#nutL)" stroke="#111" stroke-width="0.9"/>
<rect x="174.7" y="562" width="31.8" height="23.5" rx="2.5" fill="url(#nutL)" stroke="#111" stroke-width="1.2"/>
<rect x="176.5" y="565.5" width="12" height="7.5" fill="#9a9a9a" stroke="#222" stroke-width="0.8"/><rect x="193" y="565.5" width="12" height="7.5" fill="#8a8a8a" stroke="#222" stroke-width="0.8"/>
<rect x="189" y="565.5" width="3" height="7.5" fill="#ddd"/>
<line x1="174.7" y1="574.2" x2="206.5" y2="574.2" stroke="#111" stroke-width="1"/><line x1="174.7" y1="581.8" x2="206.5" y2="581.8" stroke="#111" stroke-width="1"/>
<rect x="183.5" y="585.5" width="14.5" height="143.5" fill="url(#cableV)" stroke="#111" stroke-width="0.8"/>
<rect x="187.2" y="729" width="7.3" height="59" fill="url(#cableV)" stroke="#111" stroke-width="0.7"/>
<rect x="188.5" y="788" width="4.6" height="12.5" rx="1.5" fill="#eee" stroke="#222" stroke-width="0.8"/>
</g>
<g id="back">
<circle cx="641.0" cy="645.0" r="134.5" fill="#cbcbcb" stroke="#111" stroke-width="2.6"/>
<circle cx="641.0" cy="645.0" r="121" fill="none" stroke="#111" stroke-width="2.7"/>
<circle cx="641.0" cy="645.0" r="105.5" fill="none" stroke="#111" stroke-width="2.7"/>
<circle cx="754.5" cy="645.0" r="6" fill="#bbb" stroke="#111" stroke-width="1.3"/>
<circle cx="754.5" cy="645.0" r="3.6" fill="none" stroke="#222" stroke-width="0.9"/>
<path d="M752.0,645.0 H757.0 M754.5,642.5 V647.5" stroke="#222" stroke-width="0.9"/>
<circle cx="739.3" cy="588.2" r="6" fill="#bbb" stroke="#111" stroke-width="1.3"/>
<circle cx="739.3" cy="588.2" r="3.6" fill="none" stroke="#222" stroke-width="0.9"/>
<path d="M736.8,588.2 H741.8 M739.3,585.8 V590.8" stroke="#222" stroke-width="0.9"/>
<circle cx="641.0" cy="531.5" r="6" fill="#bbb" stroke="#111" stroke-width="1.3"/>
<circle cx="641.0" cy="531.5" r="3.6" fill="none" stroke="#222" stroke-width="0.9"/>
<path d="M638.5,531.5 H643.5 M641.0,529.0 V534.0" stroke="#222" stroke-width="0.9"/>
<circle cx="584.2" cy="546.7" r="6" fill="#bbb" stroke="#111" stroke-width="1.3"/>
<circle cx="584.2" cy="546.7" r="3.6" fill="none" stroke="#222" stroke-width="0.9"/>
<path d="M581.8,546.7 H586.8 M584.2,544.2 V549.2" stroke="#222" stroke-width="0.9"/>
<circle cx="542.7" cy="588.2" r="6" fill="#bbb" stroke="#111" stroke-width="1.3"/>
<circle cx="542.7" cy="588.2" r="3.6" fill="none" stroke="#222" stroke-width="0.9"/>
<path d="M540.2,588.2 H545.2 M542.7,585.8 V590.8" stroke="#222" stroke-width="0.9"/>
<circle cx="542.7" cy="701.8" r="6" fill="#bbb" stroke="#111" stroke-width="1.3"/>
<circle cx="542.7" cy="701.8" r="3.6" fill="none" stroke="#222" stroke-width="0.9"/>
<path d="M540.2,701.8 H545.2 M542.7,699.2 V704.2" stroke="#222" stroke-width="0.9"/>
<circle cx="584.2" cy="743.3" r="6" fill="#bbb" stroke="#111" stroke-width="1.3"/>
<circle cx="584.2" cy="743.3" r="3.6" fill="none" stroke="#222" stroke-width="0.9"/>
<path d="M581.8,743.3 H586.8 M584.2,740.8 V745.8" stroke="#222" stroke-width="0.9"/>
<circle cx="641.0" cy="758.5" r="6" fill="#bbb" stroke="#111" stroke-width="1.3"/>
<circle cx="641.0" cy="758.5" r="3.6" fill="none" stroke="#222" stroke-width="0.9"/>
<path d="M638.5,758.5 H643.5 M641.0,756.0 V761.0" stroke="#222" stroke-width="0.9"/>
<circle cx="739.3" cy="701.8" r="6" fill="#bbb" stroke="#111" stroke-width="1.3"/>
<circle cx="739.3" cy="701.8" r="3.6" fill="none" stroke="#222" stroke-width="0.9"/>
<path d="M736.8,701.8 H741.8 M739.3,699.2 V704.2" stroke="#222" stroke-width="0.9"/>
<circle cx="701.2" cy="540.6" r="9.5" fill="#e6e6e6" stroke="#111" stroke-width="1.2"/>
<circle cx="701.2" cy="540.6" r="6.8" fill="#fff" stroke="#111" stroke-width="1.3"/>
<circle cx="520.5" cy="645.0" r="9.5" fill="#e6e6e6" stroke="#111" stroke-width="1.2"/>
<circle cx="520.5" cy="645.0" r="6.8" fill="#fff" stroke="#111" stroke-width="1.3"/>
<circle cx="701.2" cy="749.4" r="9.5" fill="#e6e6e6" stroke="#111" stroke-width="1.2"/>
<circle cx="701.2" cy="749.4" r="6.8" fill="#fff" stroke="#111" stroke-width="1.3"/>
<circle cx="641.0" cy="645.0" r="23" fill="none" stroke="#1a1a1a" stroke-width="1.3"/>
<circle cx="641.0" cy="645.0" r="21.3" fill="none" stroke="#eee" stroke-width="1.6"/>
<radialGradient id="hexG" cx="0.5" cy="0.5" r="0.5"><stop offset="0.55" stop-color="#222"/><stop offset="0.72" stop-color="#9a9a9a"/><stop offset="0.88" stop-color="#333"/><stop offset="1" stop-color="#111"/></radialGradient>
<polygon points="658.5,645.0 649.8,660.2 632.2,660.2 623.5,645.0 632.2,629.8 649.8,629.8" fill="url(#hexG)" stroke="#111" stroke-width="1.2" stroke-linejoin="round"/>
<circle cx="641.0" cy="645.0" r="11.5" fill="#1a1a1a"/>
<circle cx="641.0" cy="645.0" r="10" fill="none" stroke="#e6e6e6" stroke-width="1.4"/>
<circle cx="641.0" cy="645.0" r="8.2" fill="#1e1e1e"/>
<circle cx="641.0" cy="645.0" r="6.5" fill="#4a4a4a"/>
<circle cx="637.7" cy="645.0" r="1.5" fill="#f4f4f4"/><circle cx="644.3" cy="645.0" r="1.5" fill="#f4f4f4"/>
</g>
<line x1="355.3" y1="569" x2="662.5" y2="650.8" stroke="#1a1a1a" stroke-width="1.1"/>
<path d="M619.5,640.0 L608.6,639.9 L610.1,634.6 Z" fill="#111"/>
<line x1="539" y1="769.8" x2="562.8" y2="729" stroke="#1a1a1a" stroke-width="1.1"/>
<circle cx="562.8" cy="729" r="1.3" fill="#222"/>
<g transform="translate(369.2,570.3) rotate(14.5) skewX(-9)">
<path d="M-11.5,-40.8 H-14.2 V-26.8 H-11.5 M17.5,-40.8 H20.2 V-26.8 H17.5" fill="none" stroke="#555" stroke-width="0.95"/>
<text x="-10.8" y="-29.5" font-size="12.01" textLength="26.9" lengthAdjust="spacingAndGlyphs">0.63</text>
<circle cx="-2.3" cy="-18" r="3.6" fill="none" stroke="#222" stroke-width="0.9"/><line x1="-4.6" y1="-12.8" x2="0" y2="-23.2" stroke="#222" stroke-width="0.9"/>
<text x="7.2" y="-14.0" font-size="12.01" textLength="11.5" lengthAdjust="spacingAndGlyphs">16</text>
<text x="27.4" y="-13" font-size="13.7" textLength="88.6" lengthAdjust="spacingAndGlyphs">mm MINIMUM</text>
<text x="-0.7" y="0" font-size="13.7" textLength="112.4" lengthAdjust="spacingAndGlyphs">HOLE DIAMETER</text>
</g>
<linearGradient id="isoIn" x1="0" y1="0" x2="0" y2="1"><stop offset="0" stop-color="#3a3a3a"/><stop offset="0.45" stop-color="#464646"/><stop offset="0.72" stop-color="#787878"/><stop offset="1" stop-color="#a4a4a4"/></linearGradient>
<g id="iso" transform="rotate(-1.5 993 560)">
<ellipse cx="993" cy="568.5" rx="135" ry="81.5" fill="#5a5a5a" stroke="#111" stroke-width="1.6"/>
<ellipse cx="993" cy="564" rx="134.8" ry="81.5" fill="#b4b4b4" stroke="#1a1a1a" stroke-width="1.1"/>
<ellipse cx="993" cy="559.5" rx="134.5" ry="82" fill="#7c7c7c" stroke="#1a1a1a" stroke-width="1.1"/>
<ellipse cx="993" cy="555" rx="134.5" ry="82.5" fill="#b2b2b2" stroke="#111" stroke-width="1.5"/>
<ellipse cx="993" cy="555" rx="130" ry="77" fill="#7e7e7e" stroke="#1a1a1a" stroke-width="1.1"/>
<radialGradient id="isoEdge" cx="0.5" cy="0.45" r="0.5"><stop offset="0.6" stop-color="#fff" stop-opacity="0"/><stop offset="1" stop-color="#fff" stop-opacity="0.28"/></radialGradient>
<ellipse cx="993" cy="556" rx="125" ry="73.5" fill="url(#isoIn)" stroke="#111" stroke-width="1.2"/>
<ellipse cx="993" cy="556" rx="125" ry="73.5" fill="url(#isoEdge)"/>
<line x1="883.9" y1="569.1" x2="883.9" y2="550.9" stroke="#bbb" stroke-width="1.2"/><line x1="886.1" y1="573.3" x2="886.1" y2="554.4" stroke="#bbb" stroke-width="1.6"/><line x1="888.7" y1="577.5" x2="888.7" y2="560.2" stroke="#333" stroke-width="1.7"/><line x1="891.9" y1="581.5" x2="891.9" y2="567.0" stroke="#222" stroke-width="1.9"/><line x1="895.5" y1="585.4" x2="895.5" y2="572.3" stroke="#333" stroke-width="1.8"/><line x1="899.6" y1="589.1" x2="899.6" y2="573.3" stroke="#222" stroke-width="1.5"/><line x1="904.0" y1="592.7" x2="904.0" y2="580.6" stroke="#222" stroke-width="1.3"/><line x1="908.9" y1="596.1" x2="908.9" y2="582.3" stroke="#333" stroke-width="1.0"/><line x1="914.2" y1="599.3" x2="914.2" y2="579.3" stroke="#222" stroke-width="1.5"/><line x1="919.8" y1="602.3" x2="919.8" y2="585.8" stroke="#222" stroke-width="0.8"/><line x1="925.7" y1="605.0" x2="925.7" y2="584.3" stroke="#222" stroke-width="1.7"/><line x1="932.0" y1="607.5" x2="932.0" y2="585.9" stroke="#222" stroke-width="1.8"/><line x1="938.5" y1="609.8" x2="938.5" y2="594.9" stroke="#222" stroke-width="1.4"/><line x1="945.2" y1="611.8" x2="945.2" y2="593.0" stroke="#222" stroke-width="1.0"/><line x1="952.2" y1="613.6" x2="952.2" y2="591.9" stroke="#222" stroke-width="2.0"/><line x1="959.4" y1="615.0" x2="959.4" y2="594.1" stroke="#333" stroke-width="0.8"/><line x1="966.7" y1="616.2" x2="966.7" y2="600.0" stroke="#222" stroke-width="1.1"/><line x1="974.1" y1="617.1" x2="974.1" y2="601.8" stroke="#bbb" stroke-width="1.5"/><line x1="981.6" y1="617.7" x2="981.6" y2="599.7" stroke="#bbb" stroke-width="1.2"/><line x1="989.2" y1="618.0" x2="989.2" y2="602.9" stroke="#333" stroke-width="1.4"/><line x1="996.8" y1="618.0" x2="996.8" y2="602.8" stroke="#333" stroke-width="1.4"/><line x1="1004.4" y1="617.7" x2="1004.4" y2="603.9" stroke="#333" stroke-width="2.0"/><line x1="1011.9" y1="617.1" x2="1011.9" y2="604.8" stroke="#bbb" stroke-width="1.2"/><line x1="1019.3" y1="616.2" x2="1019.3" y2="600.1" stroke="#bbb" stroke-width="1.7"/><line x1="1026.6" y1="615.0" x2="1026.6" y2="599.3" stroke="#bbb" stroke-width="1.8"/><line x1="1033.8" y1="613.6" x2="1033.8" y2="597.0" stroke="#bbb" stroke-width="1.0"/><line x1="1040.8" y1="611.8" x2="1040.8" y2="590.3" stroke="#222" stroke-width="0.9"/><line x1="1047.5" y1="609.8" x2="1047.5" y2="595.3" stroke="#333" stroke-width="1.2"/><line x1="1054.0" y1="607.5" x2="1054.0" y2="592.0" stroke="#bbb" stroke-width="1.1"/><line x1="1060.3" y1="605.0" x2="1060.3" y2="588.4" stroke="#bbb" stroke-width="1.7"/><line x1="1066.2" y1="602.3" x2="1066.2" y2="582.3" stroke="#333" stroke-width="0.8"/><line x1="1071.8" y1="599.3" x2="1071.8" y2="577.8" stroke="#222" stroke-width="1.1"/><line x1="1077.1" y1="596.1" x2="1077.1" y2="579.0" stroke="#333" stroke-width="1.9"/><line x1="1082.0" y1="592.7" x2="1082.0" y2="577.3" stroke="#bbb" stroke-width="1.5"/><line x1="1086.4" y1="589.1" x2="1086.4" y2="574.0" stroke="#333" stroke-width="1.2"/><line x1="1090.5" y1="585.4" x2="1090.5" y2="565.4" stroke="#bbb" stroke-width="1.0"/><line x1="1094.1" y1="581.5" x2="1094.1" y2="562.6" stroke="#333" stroke-width="1.0"/><line x1="1097.3" y1="577.5" x2="1097.3" y2="565.0" stroke="#bbb" stroke-width="1.4"/><line x1="1099.9" y1="573.3" x2="1099.9" y2="557.3" stroke="#222" stroke-width="1.7"/><line x1="1102.1" y1="569.1" x2="1102.1" y2="553.6" stroke="#333" stroke-width="1.3"/>
<ellipse cx="895.1" cy="576.6" rx="4.5" ry="2.8" fill="#8a8a8a" stroke="#222" stroke-width="0.8"/>
<ellipse cx="909.6" cy="590.0" rx="4.5" ry="2.8" fill="#8a8a8a" stroke="#222" stroke-width="0.8"/>
<ellipse cx="929.3" cy="600.9" rx="4.5" ry="2.8" fill="#8a8a8a" stroke="#222" stroke-width="0.8"/>
<ellipse cx="953.1" cy="608.5" rx="4.5" ry="2.8" fill="#8a8a8a" stroke="#222" stroke-width="0.8"/>
<ellipse cx="979.4" cy="612.5" rx="4.5" ry="2.8" fill="#8a8a8a" stroke="#222" stroke-width="0.8"/>
<ellipse cx="1006.6" cy="612.5" rx="4.5" ry="2.8" fill="#8a8a8a" stroke="#222" stroke-width="0.8"/>
<ellipse cx="1032.9" cy="608.5" rx="4.5" ry="2.8" fill="#8a8a8a" stroke="#222" stroke-width="0.8"/>
<ellipse cx="1056.7" cy="600.9" rx="4.5" ry="2.8" fill="#8a8a8a" stroke="#222" stroke-width="0.8"/>
<ellipse cx="1076.4" cy="590.0" rx="4.5" ry="2.8" fill="#8a8a8a" stroke="#222" stroke-width="0.8"/>
<ellipse cx="1090.9" cy="576.6" rx="4.5" ry="2.8" fill="#8a8a8a" stroke="#222" stroke-width="0.8"/>
<ellipse cx="993" cy="536.0" rx="86.0" ry="52.0" fill="none" stroke="#707070" stroke-width="0.9"/>
<ellipse cx="993" cy="536.9" rx="90.5" ry="54.6" fill="none" stroke="#707070" stroke-width="0.9"/>
<ellipse cx="993" cy="537.8" rx="95.0" ry="57.2" fill="none" stroke="#707070" stroke-width="0.9"/>
<ellipse cx="993" cy="538.7" rx="99.5" ry="59.8" fill="none" stroke="#707070" stroke-width="0.9"/>
<ellipse cx="993" cy="539.6" rx="104.0" ry="62.4" fill="none" stroke="#707070" stroke-width="0.9"/>
<ellipse cx="993" cy="540.5" rx="108.5" ry="65.0" fill="none" stroke="#707070" stroke-width="0.9"/>
<ellipse cx="993" cy="541" rx="103" ry="62" fill="none" stroke="#3e3e3e" stroke-width="7"/>
<path d="M1090.0,540.0 L1100.0,540.0 M1088.5,530.1 L1098.4,528.7 M1084.2,520.5 L1093.5,517.8 M1077.0,511.5 L1085.7,507.5 M1067.3,503.4 L1075.0,498.2 M1055.4,496.3 L1061.8,490.2 M1041.5,490.6 L1046.5,483.7 M1026.2,486.4 L1029.6,478.9 M1009.8,483.9 L1011.6,476.0 M993.0,483.0 L993.0,475.0 M976.2,483.9 L974.4,476.0 M959.8,486.4 L956.4,478.9 M944.5,490.6 L939.5,483.7 M930.6,496.3 L924.2,490.2 M918.7,503.4 L911.0,498.2 M909.0,511.5 L900.3,507.5 M901.8,520.5 L892.5,517.8 M897.5,530.1 L887.6,528.7 M896.0,540.0 L886.0,540.0 M897.5,549.9 L887.6,551.3 M901.8,559.5 L892.5,562.2 M909.0,568.5 L900.3,572.5 M918.7,576.6 L911.0,581.8 M930.6,583.7 L924.2,589.8 M944.5,589.4 L939.5,596.3 M959.8,593.6 L956.4,601.1 M976.2,596.1 L974.4,604.0 M993.0,597.0 L993.0,605.0 M1009.8,596.1 L1011.6,604.0 M1026.2,593.6 L1029.6,601.1 M1041.5,589.4 L1046.5,596.3 M1055.4,583.7 L1061.8,589.8 M1067.3,576.6 L1075.0,581.8 M1077.0,568.5 L1085.7,572.5 M1084.2,559.5 L1093.5,562.2 M1088.5,549.9 L1098.4,551.3" stroke="#222" stroke-width="1"/>
<ellipse cx="993" cy="540" rx="107" ry="65" fill="none" stroke="#151515" stroke-width="1.1"/>
<ellipse cx="993" cy="531" rx="82" ry="49" fill="#363636" stroke="#111" stroke-width="1.4"/>
<ellipse cx="993" cy="531" rx="76.4" ry="45.6" fill="none" stroke="#7a7a7a" stroke-width="0.9"/>
<ellipse cx="993" cy="531" rx="70.8" ry="42.2" fill="none" stroke="#7a7a7a" stroke-width="0.9"/>
<ellipse cx="993" cy="531" rx="65.2" ry="38.8" fill="none" stroke="#7a7a7a" stroke-width="0.9"/>
<ellipse cx="993" cy="531" rx="59.6" ry="35.4" fill="none" stroke="#7a7a7a" stroke-width="0.9"/>
<ellipse cx="993" cy="531" rx="54.0" ry="32.0" fill="none" stroke="#7a7a7a" stroke-width="0.9"/>
<ellipse cx="993" cy="531" rx="48.4" ry="28.6" fill="none" stroke="#7a7a7a" stroke-width="0.9"/>
<ellipse cx="993" cy="531" rx="42.8" ry="25.2" fill="none" stroke="#7a7a7a" stroke-width="0.9"/>
<ellipse cx="993" cy="531" rx="37.2" ry="21.8" fill="none" stroke="#7a7a7a" stroke-width="0.9"/>
<path d="M962,524 Q975,520 982,517 L1005,517 Q1012,520 1025,524 L1025,545 Q1012,549 1005,552 L982,552 Q975,549 962,545 Z" fill="#2e2e2e"/>
<path d="M978,545 L1012,526 M984,549 L1016,531" stroke="#555" stroke-width="2" stroke-dasharray="3 1"/>
<path d="M990,530 l6,-7 l1,8 z" fill="#ccc"/>
<ellipse cx="993.5" cy="502.5" rx="27" ry="17" fill="#4a4a4a" stroke="#111" stroke-width="1"/>
<ellipse cx="993.5" cy="501.5" rx="24" ry="14.2" fill="#6e6e6e" stroke="#1a1a1a" stroke-width="0.9"/>
<ellipse cx="993.5" cy="506.8" rx="14" ry="5.9" fill="#8a8a8a" stroke="#222" stroke-width="0.8"/>
<path d="M972.5,504.5 H1014.5 M985.5,490.5 V515.5 M1001.5,490.5 V515.5" stroke="#222" stroke-width="0.9"/>
<rect x="973.5" y="505.5" width="5" height="3" fill="#bbb"/><rect x="1008.5" y="497.5" width="5" height="3" fill="#aaa"/>
<ellipse cx="939" cy="534" rx="28.5" ry="16" fill="#4a4a4a" stroke="#111" stroke-width="1"/>
<ellipse cx="939" cy="533" rx="25.5" ry="13.2" fill="#6e6e6e" stroke="#1a1a1a" stroke-width="0.9"/>
<ellipse cx="939" cy="538.0" rx="15.5" ry="5.6" fill="#8a8a8a" stroke="#222" stroke-width="0.8"/>
<path d="M916.5,536 H961.5 M931,523 V546 M947,523 V546" stroke="#222" stroke-width="0.9"/>
<rect x="917.5" y="537" width="5" height="3" fill="#bbb"/><rect x="955.5" y="529" width="5" height="3" fill="#aaa"/>
<ellipse cx="1046" cy="535" rx="28.5" ry="16" fill="#4a4a4a" stroke="#111" stroke-width="1"/>
<ellipse cx="1046" cy="534" rx="25.5" ry="13.2" fill="#6e6e6e" stroke="#1a1a1a" stroke-width="0.9"/>
<ellipse cx="1046" cy="539.0" rx="15.5" ry="5.6" fill="#8a8a8a" stroke="#222" stroke-width="0.8"/>
<path d="M1023.5,537 H1068.5 M1038,524 V547 M1054,524 V547" stroke="#222" stroke-width="0.9"/>
<rect x="1024.5" y="538" width="5" height="3" fill="#bbb"/><rect x="1062.5" y="530" width="5" height="3" fill="#aaa"/>
<ellipse cx="993.5" cy="566" rx="27.5" ry="17.5" fill="#4a4a4a" stroke="#111" stroke-width="1"/>
<ellipse cx="993.5" cy="565" rx="24.5" ry="14.7" fill="#6e6e6e" stroke="#1a1a1a" stroke-width="0.9"/>
<ellipse cx="993.5" cy="570.4" rx="14.5" ry="6.1" fill="#8a8a8a" stroke="#222" stroke-width="0.8"/>
<path d="M972.0,568 H1015.0 M985.5,553.5 V579.5 M1001.5,553.5 V579.5" stroke="#222" stroke-width="0.9"/>
<rect x="973.0" y="569" width="5" height="3" fill="#bbb"/><rect x="1009.0" y="561" width="5" height="3" fill="#aaa"/>
<path d="M908,492 Q911,484 922,480.5 Q930,480 932,486 L930,492 Z" fill="#777" stroke="#111" stroke-width="1.1"/>
<path d="M1080,512 Q1105,518 1118,540" fill="none" stroke="#111" stroke-width="1.2"/>
<path d="M1088,508 Q1112,520 1122,548" fill="none" stroke="#222" stroke-width="1"/>
<ellipse cx="960.5" cy="611" rx="19" ry="25" fill="none" stroke="#111" stroke-width="1.2"/>
<ellipse cx="962" cy="614" rx="13" ry="17" fill="none" stroke="#111" stroke-width="1"/>
<ellipse cx="961" cy="624" rx="11" ry="7.5" fill="#9a9a9a" stroke="#111" stroke-width="1.1"/>
<ellipse cx="961" cy="622" rx="6" ry="3.5" fill="#ccc" stroke="#222" stroke-width="0.8"/>
<path d="M1005,642 L1045,637 M1055,634 L1072,630 M1082,627 L1088,626" stroke="#222" stroke-width="2.4" stroke-dasharray="2 1"/>
</g>
<rect x="985" y="649.5" width="16.5" height="74.5" fill="url(#cableV)" stroke="#111" stroke-width="0.8"/>
<rect x="985.5" y="724" width="6" height="49" fill="url(#cableV)" stroke="#111" stroke-width="0.7"/>
<rect x="991.5" y="724" width="6.5" height="49" fill="url(#cableV)" stroke="#111" stroke-width="0.7"/>
<rect x="986.5" y="773" width="4" height="9" fill="#ccc" stroke="#222" stroke-width="0.7"/>
<rect x="992.5" y="773" width="4" height="9.5" fill="#ccc" stroke="#222" stroke-width="0.7"/>
</svg></body></html>
